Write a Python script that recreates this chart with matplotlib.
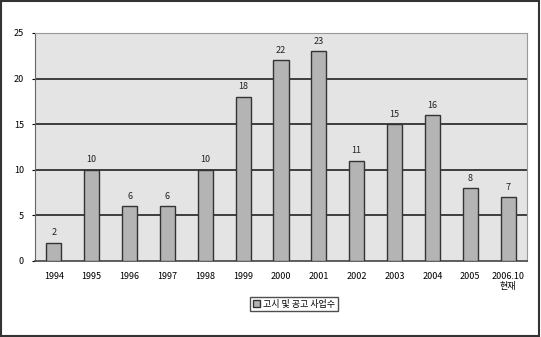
import matplotlib
matplotlib.use('Agg')
import matplotlib.pyplot as plt
from matplotlib.patches import Rectangle
import numpy as np

plt.rcParams['font.family'] = ['Noto Sans CJK KR', 'DejaVu Sans']

# projects per year
years = ['1994', '1995', '1996', '1997', '1998', '1999', '2000',
         '2001', '2002', '2003', '2004', '2005', '2006.10\n현재']
counts = [2, 10, 6, 6, 10, 18, 22, 23, 11, 15, 16, 8, 7]
legend_label = '고시 및 공고 사업수'

fig = plt.figure(figsize=(5.41, 3.37), dpi=100)
fig.patch.set_facecolor('white')
fig.add_artist(Rectangle((0.002, 0.002), 0.995, 0.995, transform=fig.transFigure,
                         fill=False, edgecolor='#333333', linewidth=1.5))

ax = fig.add_axes([35 / 541, 1 - 261 / 337, (527 - 35) / 541, (261 - 33) / 337])
ax.set_facecolor('#e4e4e4')

x = np.arange(len(years))
bars = ax.bar(x, counts, width=0.4, color='#b4b4b4', edgecolor='#333333',
              linewidth=1.0, zorder=3, label=legend_label)

for xi, v in zip(x, counts):
    ax.text(xi, v + 0.6, str(v), ha='center', va='bottom', fontsize=6.5,
            color='#222222', zorder=4)

ax.set_ylim(0, 25)
ax.set_xlim(-0.5, len(years) - 0.5)
ax.set_yticks([0, 5, 10, 15, 20, 25])
ax.tick_params(axis='y', labelsize=6.5, length=2, pad=6)
ax.set_xticks(x)
ax.set_xticklabels(years, fontsize=6.5, linespacing=1.1)
ax.tick_params(axis='x', length=0, pad=8)

for yv in [5, 10, 15, 20]:
    ax.axhline(yv, color='#222222', linewidth=1.2, zorder=1)

for side in ['top', 'right']:
    ax.spines[side].set_color('#999999')
ax.spines['left'].set_color('#666666')
ax.spines['bottom'].set_color('#444444')
ax.spines['bottom'].set_linewidth(1.2)

leg = fig.legend(loc='center', bbox_to_anchor=(294 / 541, 1 - 304 / 337),
                 fontsize=6.5, frameon=True, fancybox=False, edgecolor='#222222',
                 handlelength=0.8, handleheight=0.8, handletextpad=0.3,
                 borderpad=0.3)
leg.get_frame().set_linewidth(1.0)

fig.savefig('out.png', dpi=100)
